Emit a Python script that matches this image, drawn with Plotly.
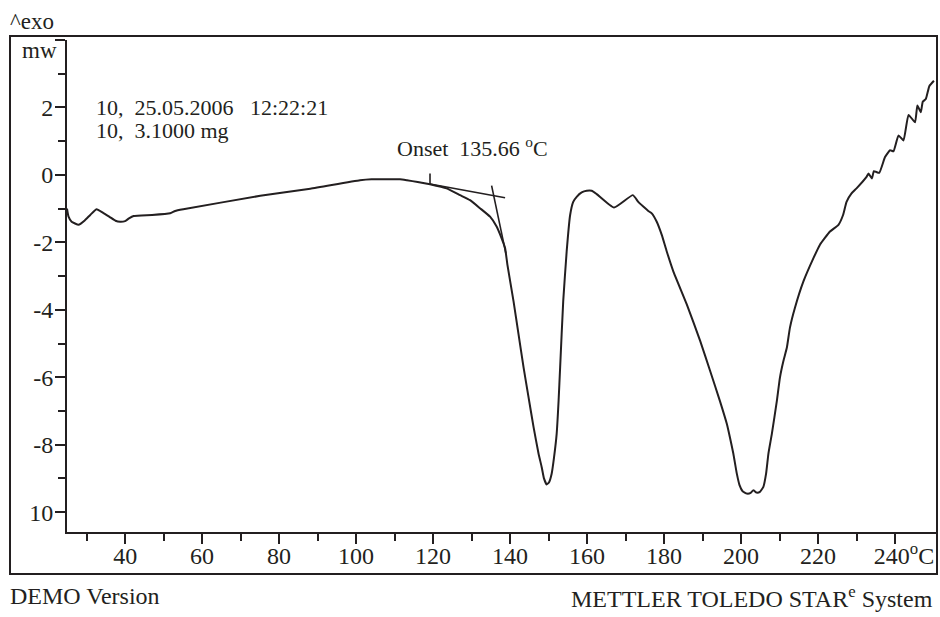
import plotly.graph_objects as go

# ---------------- data ----------------
temperature_c = [24.9, 25.3, 26.1, 27.9, 29.5, 31.0, 32.6, 34.2, 36.0, 37.5, 38.7, 40.0, 41.0, 42.2,
                 47.0, 51.7, 53.0, 55.1, 75.1, 88.1, 101.0, 104.0, 108.0, 111.4, 113.2, 116.0, 119.2,
                 123.5, 127.0, 129.6, 132.2, 134.8, 136.5, 137.8, 138.7, 139.3, 140.9, 142.2, 143.5,
                 144.8, 146.1, 147.4, 148.2, 148.8, 149.5, 150.1, 150.8, 151.4, 152.1, 152.6, 153.0,
                 153.8, 154.7, 155.6, 156.4, 157.3, 158.6, 159.9, 161.2, 162.5, 167.0, 171.9, 173.3,
                 174.6, 175.9, 176.8, 178.1, 179.4, 180.7, 182.4, 185.9, 189.4, 191.95, 194.5, 196.3,
                 197.1, 198.0, 198.9, 199.6, 200.4, 201.5, 202.5, 203.2, 204.0, 204.9, 205.8, 206.5,
                 207.1, 208.0, 209.3, 210.1, 211.0, 211.9, 212.7, 214.0, 216.2, 218.8, 220.5, 223.1,
                 225.3, 226.5, 227.4, 228.7, 230.0, 232.6, 233.1, 234.0, 234.5, 235.9, 237.4, 238.7,
                 239.6, 240.9, 242.2, 243.5, 245.2, 245.8, 246.7, 247.2, 248.0, 248.9, 250.1]
heat_flow_mw = [-1.00, -1.24, -1.39, -1.48, -1.35, -1.18, -1.02, -1.12, -1.25, -1.36, -1.39, -1.37, -1.29, -1.22,
                -1.19, -1.14, -1.07, -1.02, -0.62, -0.41, -0.16, -0.13, -0.13, -0.13, -0.16, -0.21, -0.28,
                -0.40, -0.60, -0.75, -0.99, -1.24, -1.53, -1.88, -2.17, -2.66, -3.75, -4.73, -5.71,
                -6.60, -7.48, -8.27, -8.66, -9.00, -9.18, -9.12, -8.86, -8.39, -7.68, -6.70, -5.71,
                -3.75, -2.27, -1.19, -0.80, -0.65, -0.52, -0.47, -0.47, -0.57, -0.97, -0.60, -0.80,
                -0.94, -1.07, -1.14, -1.39, -1.78, -2.27, -2.86, -3.84, -4.93, -5.81, -6.70, -7.38,
                -7.78, -8.27, -8.86, -9.20, -9.38, -9.45, -9.43, -9.35, -9.42, -9.40, -9.25, -8.86,
                -8.27, -7.68, -6.70, -6.01, -5.52, -5.12, -4.53, -3.94, -3.16, -2.47, -2.07, -1.68,
                -1.48, -1.19, -0.80, -0.55, -0.40, -0.06, 0.04, -0.11, 0.11, 0.06, 0.53, 0.73,
                0.70, 1.17, 1.02, 1.78, 1.56, 2.06, 1.86, 2.17, 2.25, 2.63, 2.79]

# onset construction lines
baseline_tangent_x = [119.2, 138.7]
baseline_tangent_y = [-0.27, -0.68]
inflection_tangent_x = [135.2, 138.9]
inflection_tangent_y = [-0.32, -2.33]
onset_marker_x = [119.2, 119.2]
onset_marker_y = [0.04, -0.27]

x_tick_vals = [40, 60, 80, 100, 120, 140, 160, 180, 200, 220, 240]
x_tick_text = ["40", "60", "80", "100", "120", "140", "160", "180", "200", "220",
               "\u00a0\u00a0\u00a0240<sup>o</sup>C"]
x_minor_vals = [30, 50, 70, 90, 110, 130, 150, 170, 190, 210, 230]
y_tick_vals = [4, 2, 0, -2, -4, -6, -8, -10]
y_tick_text = ["", "2", "0", "-2", "-4", "-6", "-8", "10"]
y_minor_vals = [3, 1, -1, -3, -5, -7, -9]

info_line_1 = "10,\u00a0\u00a025.05.2006\u00a0\u00a0\u00a012:22:21"
info_line_2 = "10,\u00a0\u00a03.1000 mg"
onset_label = "Onset\u00a0\u00a0135.66 <sup>o</sup>C"

# ---------------- layout helpers ----------------
W, H = 940, 617
L, R, T, B = 67, 937, 40, 532   # plot area in pixels
INK = "#231f20"
FONT = "Liberation Serif, Times New Roman, serif"


def px(xp):
    return (xp - L) / (R - L)


def py(yp):
    return (B - yp) / (B - T)


fig = go.Figure()
fig.add_trace(go.Scatter(x=temperature_c, y=heat_flow_mw, mode="lines",
                         line=dict(color=INK, width=2, shape="spline", smoothing=0.4),
                         hoverinfo="skip"))
for xs, ys in [(baseline_tangent_x, baseline_tangent_y),
               (inflection_tangent_x, inflection_tangent_y),
               (onset_marker_x, onset_marker_y)]:
    fig.add_trace(go.Scatter(x=xs, y=ys, mode="lines", line=dict(color=INK, width=1.6),
                             hoverinfo="skip"))

fig.update_layout(
    width=W, height=H,
    margin=dict(l=L, r=W - R, t=T, b=H - B),
    paper_bgcolor="white", plot_bgcolor="white",
    showlegend=False,
    font=dict(family=FONT, size=22, color=INK),
    xaxis=dict(range=[24.9, 250.9], tickmode="array", tickvals=x_tick_vals, ticktext=x_tick_text,
               ticks="outside", ticklen=10, tickwidth=1.5, tickcolor=INK,
               ticklabelstandoff=-9,
               showline=True, linewidth=2, linecolor=INK, showgrid=False, zeroline=False,
               tickfont=dict(family=FONT, size=24, color=INK),
               minor=dict(tickmode="array", tickvals=x_minor_vals,
                          ticks="outside", ticklen=7, tickwidth=1.5, tickcolor=INK, showgrid=False),
               fixedrange=True),
    yaxis=dict(range=[-10.59, 4.0], tickmode="array", tickvals=y_tick_vals, ticktext=y_tick_text,
               ticks="outside", ticklen=10, tickwidth=1.5, tickcolor=INK,
               ticklabelstandoff=-3,
               showline=True, linewidth=2, linecolor=INK, showgrid=False, zeroline=False,
               tickfont=dict(family=FONT, size=24, color=INK),
               minor=dict(tickmode="array", tickvals=y_minor_vals,
                          ticks="outside", ticklen=7, tickwidth=1.5, tickcolor=INK, showgrid=False),
               fixedrange=True),
)

# outer frame
fig.add_shape(type="rect", xref="paper", yref="paper",
              x0=px(10), x1=px(937), y0=py(574), y1=py(36),
              line=dict(color=INK, width=2))


def note(text, x, y, xanchor="left", size=22):
    fig.add_annotation(text=text, xref="paper", yref="paper", x=px(x), y=py(y),
                       xanchor=xanchor, yanchor="middle", showarrow=False,
                       font=dict(family=FONT, size=size, color=INK))


note("^exo", 8, 21, size=23)
note("mw", 20, 50, size=23)
note(info_line_1, 94, 107)
note(info_line_2, 94, 130)
note(onset_label, 395, 147)
note("DEMO Version", 8, 596, size=24)
note("METTLER TOLEDO STAR<sup>e</sup> System", 935, 597, xanchor="right", size=24)

fig.write_html("out.html")
